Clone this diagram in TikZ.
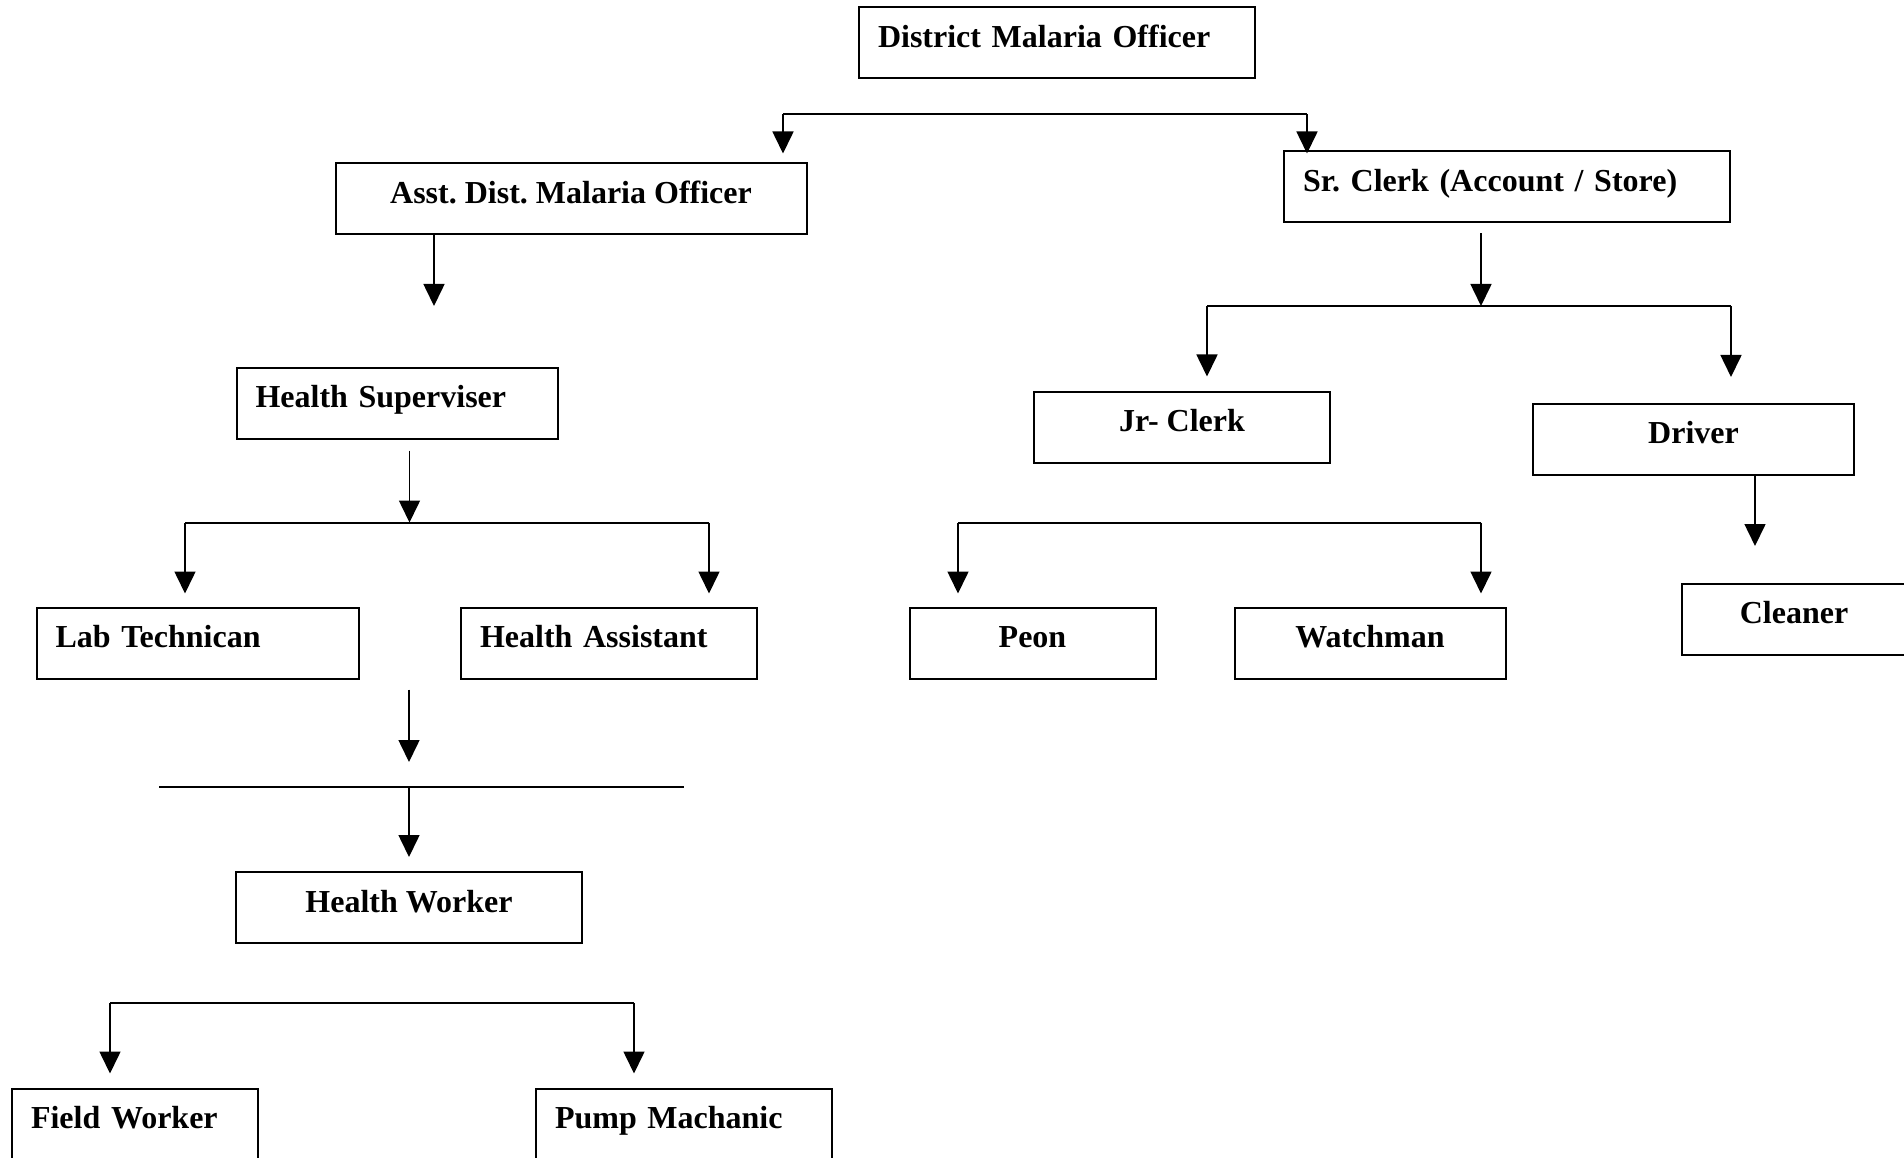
\documentclass[tikz,border=0pt]{standalone}
\usepackage{fontspec}
\setmainfont{Liberation Serif}
\usetikzlibrary{arrows.meta}
\frenchspacing

\begin{document}
\begin{tikzpicture}[x=1pt,y=-1pt,
  post/.style={draw,line width=2pt,inner xsep=19pt,inner ysep=0pt,text height=40pt,text depth=31pt,font=\bfseries\fontsize{32}{38}\selectfont},
  lpost/.style={post,align=left,text width=#1},
  cpost/.style={post,minimum width=#1},
  bar/.style={line width=2pt},
  down/.style={line width=1.6pt,-{Triangle[length=22pt,width=21pt]}}]

\useasboundingbox (0,0) rectangle (1904,1158);

\node[lpost=358pt] (dmo) at (1057,43) {District Malaria Officer};

\node[cpost=471pt] (admo) at (571,199) {Asst. Dist. Malaria Officer};
\node[lpost=408pt] (srclerk) at (1507,187) {Sr. Clerk (Account / Store)};

\node[lpost=283pt] (hsup) at (397,403) {Health Superviser};
\node[cpost=296pt] (jrclerk) at (1182,427) {Jr- Clerk};
\node[cpost=321pt] (driver) at (1693.5,439) {Driver};

\node[lpost=284pt] (labtech) at (197.5,643) {Lab Technican};
\node[lpost=258pt] (hassist) at (609,643) {Health Assistant};
\node[cpost=246pt] (peon) at (1032.5,643) {Peon};
\node[cpost=271pt] (watchman) at (1370,643) {Watchman};
\node[cpost=224pt] (cleaner) at (1794,619) {Cleaner};

\node[cpost=346pt] (hworker) at (409,907.5) {Health Worker};

\node[lpost=208pt] (fieldw) at (135,1124) {Field Worker};
\node[lpost=258pt] (pumpm) at (684,1124) {Pump Machanic};

\coordinate (dmoL) at (783,114.5);
\coordinate (dmoR) at (1307,114.5);
\coordinate (admoTip) at (434,306);
\coordinate (hsJ) at (409.5,522.5);
\coordinate (hsL) at (185,522.5);
\coordinate (hsR) at (709,522.5);
\coordinate (hwJ) at (409,787);
\coordinate (hwL) at (159,787);
\coordinate (hwR) at (684,787);
\coordinate (fwL) at (110,1003);
\coordinate (fwR) at (634,1003);
\coordinate (scJ) at (1481,306);
\coordinate (scL) at (1207,306);
\coordinate (scR) at (1731,306);
\coordinate (jcL) at (958,522.5);
\coordinate (jcR) at (1481,522.5);
\coordinate (drTip) at (1755,546);

\draw[bar] (dmoL) -- (dmoR) (hsL) -- (hsR) (hwL) -- (hwR) (fwL) -- (fwR) (scL) -- (scR) (jcL) -- (jcR);

\draw[down,shorten >=9pt] (dmoL) -- (dmoL |- admo.north);
\draw[down,shorten >=-3pt] (dmoR) -- (dmoR |- srclerk.north);
\draw[down] (admoTip |- admo.south) -- (admoTip);
\draw[down,shorten <=11pt] (hsJ |- hsup.south) -- (hsJ);
\draw[down,shorten >=13pt] (hsL) -- (hsL |- labtech.north);
\draw[down,shorten >=13pt] (hsR) -- (hsR |- hassist.north);
\draw[down,shorten <=10pt,shorten >=25pt] (hwJ |- labtech.south) -- (hwJ);
\draw[down,shorten >=14pt] (hwJ) -- (hwJ |- hworker.north);
\draw[down,shorten >=14pt] (fwL) -- (fwL |- fieldw.north);
\draw[down,shorten >=14pt] (fwR) -- (fwR |- pumpm.north);
\draw[down,shorten <=10pt] (scJ |- srclerk.south) -- (scJ);
\draw[down,shorten >=14pt] (scL) -- (scL |- jrclerk.north);
\draw[down,shorten >=25.5pt] (scR) -- (scR |- driver.north);
\draw[down,shorten >=13pt] (jcL) -- (jcL |- peon.north);
\draw[down,shorten >=13pt] (jcR) -- (jcR |- watchman.north);
\draw[down] (drTip |- driver.south) -- (drTip);

\end{tikzpicture}
\end{document}
